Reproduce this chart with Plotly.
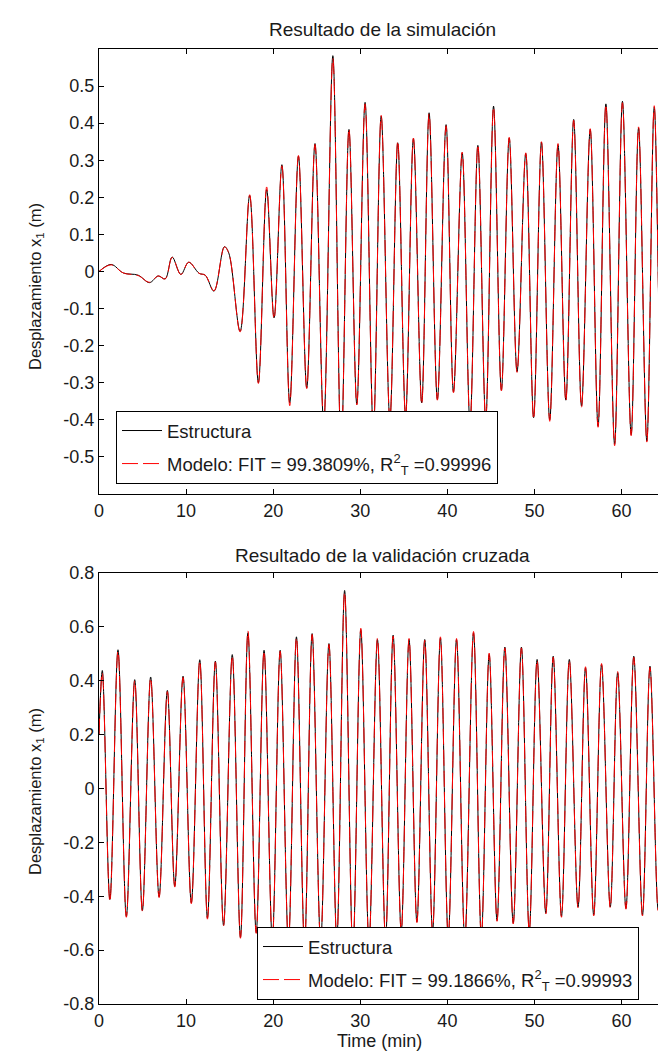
import plotly.graph_objects as go

# ---------------- data (extrema of the oscillation) ----------------
sim_t = [0, 1.4, 2.8, 4.5, 5.8, 6.8, 7.6, 8.4, 9.4, 10.3,
         11.5, 12.2, 13.2, 14.4, 14.9, 16.2, 17.3, 18.3, 19.25, 20.1,
         21.0, 21.9, 22.9, 23.85, 24.8, 25.8, 26.85, 27.8, 28.7, 29.6,
         30.55, 31.5, 32.4, 33.4, 34.3, 35.2, 36.1, 37.05, 37.9, 38.85,
         39.85, 40.7, 41.7, 42.6, 43.5, 44.4, 45.3, 46.2, 47.1, 48.0,
         49.0, 49.9, 50.8, 51.75, 52.7, 53.6, 54.5, 55.4, 56.4, 57.3,
         58.2, 59.2, 60.1, 61.1, 61.95, 62.9, 63.75, 64.6, 65.1]
sim_struct = [0.0, 0.019, -0.004, -0.01, -0.03, -0.012, -0.02, 0.039, -0.008, 0.025,
              -0.005, -0.01, -0.053, 0.067, 0.05, -0.161, 0.205, -0.30, 0.221, -0.125,
              0.288, -0.354, 0.311, -0.314, 0.345, -0.41, 0.582, -0.48, 0.383, -0.358,
              0.456, -0.43, 0.419, -0.40, 0.347, -0.39, 0.358, -0.354, 0.428, -0.345,
              0.396, -0.325, 0.32, -0.41, 0.34, -0.40, 0.446, -0.32, 0.36, -0.27,
              0.318, -0.394, 0.349, -0.40, 0.342, -0.347, 0.41, -0.363, 0.383, -0.417,
              0.452, -0.466, 0.459, -0.44, 0.387, -0.457, 0.443, -0.40, 0.0]
sim_model = [0.0, 0.018, -0.004, -0.011, -0.029, -0.012, -0.02, 0.038, -0.008, 0.025,
             -0.005, -0.01, -0.052, 0.066, 0.05, -0.163, 0.207, -0.302, 0.228, -0.128,
             0.285, -0.362, 0.313, -0.316, 0.343, -0.41, 0.575, -0.48, 0.385, -0.36,
             0.452, -0.43, 0.421, -0.40, 0.352, -0.39, 0.36, -0.358, 0.425, -0.347,
             0.393, -0.327, 0.322, -0.41, 0.342, -0.40, 0.443, -0.322, 0.362, -0.272,
             0.32, -0.398, 0.35, -0.404, 0.345, -0.35, 0.408, -0.366, 0.385, -0.42,
             0.45, -0.47, 0.455, -0.443, 0.39, -0.46, 0.447, -0.405, 0.0]

val_t = [0, 0.38, 1.25, 2.18, 3.14, 4.1, 4.98, 5.93, 6.9, 7.85,
         8.7, 9.65, 10.6, 11.57, 12.45, 13.36, 14.3, 15.3, 16.24, 17.1,
         18.05, 18.95, 19.9, 20.8, 21.75, 22.67, 23.6, 24.47, 25.45, 26.4,
         27.3, 28.2, 29.15, 30.06, 31.0, 31.97, 32.9, 33.77, 34.7, 35.6,
         36.5, 37.4, 38.3, 39.2, 40.1, 41.05, 42.0, 43.0, 43.9, 44.8,
         45.7, 46.6, 47.56, 48.5, 49.4, 50.3, 51.3, 52.15, 53.1, 54.0,
         55.0, 55.86, 56.8, 57.7, 58.7, 59.55, 60.5, 61.4, 62.4, 63.26,
         64.2, 65.06]
val_struct = [0.20, 0.438, -0.412, 0.515, -0.475, 0.404, -0.453, 0.414, -0.402, 0.364,
              -0.363, 0.417, -0.425, 0.478, -0.481, 0.473, -0.508, 0.497, -0.553, 0.578,
              -0.535, 0.513, -0.56, 0.513, -0.57, 0.563, -0.58, 0.575, -0.57, 0.538,
              -0.56, 0.735, -0.60, 0.59, -0.57, 0.553, -0.56, 0.569, -0.53, 0.553,
              -0.495, 0.553, -0.53, 0.559, -0.55, 0.553, -0.56, 0.578, -0.55, 0.498,
              -0.49, 0.525, -0.50, 0.525, -0.53, 0.479, -0.463, 0.491, -0.475, 0.479,
              -0.44, 0.448, -0.47, 0.46, -0.44, 0.43, -0.445, 0.491, -0.47, 0.454,
              -0.45, 0.436]
val_model = [0.20, 0.43, -0.42, 0.51, -0.478, 0.40, -0.455, 0.41, -0.405, 0.36,
             -0.366, 0.413, -0.428, 0.474, -0.485, 0.47, -0.51, 0.493, -0.556, 0.585,
             -0.538, 0.51, -0.563, 0.51, -0.572, 0.56, -0.582, 0.572, -0.572, 0.535,
             -0.562, 0.728, -0.602, 0.595, -0.572, 0.558, -0.562, 0.566, -0.532, 0.557,
             -0.498, 0.55, -0.532, 0.563, -0.552, 0.557, -0.562, 0.583, -0.552, 0.503,
             -0.493, 0.522, -0.503, 0.522, -0.532, 0.476, -0.466, 0.488, -0.478, 0.476,
             -0.443, 0.452, -0.473, 0.464, -0.443, 0.434, -0.448, 0.487, -0.473, 0.45,
             -0.453, 0.432]

x_ticks = [0, 10, 20, 30, 40, 50, 60]
y1_ticks = [0.5, 0.4, 0.3, 0.2, 0.1, 0, -0.1, -0.2, -0.3, -0.4, -0.5]
y1_labels = ["0.5", "0.4", "0.3", "0.2", "0.1", "0", "-0.1", "-0.2", "-0.3", "-0.4", "-0.5"]
y2_ticks = [0.8, 0.6, 0.4, 0.2, 0, -0.2, -0.4, -0.6, -0.8]
y2_labels = ["0.8", "0.6", "0.4", "0.2", "0", "-0.2", "-0.4", "-0.6", "-0.8"]

title_sim = "Resultado de la simulación"
title_val = "Resultado de la validación cruzada"
name_struct = "Estructura"
name_model_sim = "Modelo: FIT = 99.3809%, R<sup>2</sup><sub>T</sub> =0.99996"
name_model_val = "Modelo: FIT = 99.1866%, R<sup>2</sup><sub>T</sub> =0.99993"
ylabel = "Desplazamiento x<sub>1</sub> (m)"
xlabel = "Time (min)"

# ---------------- figure ----------------
W, H = 666, 1061
FONT = "Liberation Sans, Arial, sans-serif"
TXT = "#1a1a1a"

fig = go.Figure()
black = dict(color="black", width=1, shape="spline", smoothing=1)
red = dict(color="#ff0000", width=1, dash="16px,5px", shape="spline", smoothing=1)

fig.add_trace(go.Scatter(x=sim_t, y=sim_struct, mode="lines", line=black, name=name_struct,
                         xaxis="x", yaxis="y", legend="legend", legendgroup="a"))
fig.add_trace(go.Scatter(x=sim_t, y=sim_model, mode="lines", line=red, name=name_model_sim,
                         xaxis="x", yaxis="y", legend="legend", legendgroup="b"))
fig.add_trace(go.Scatter(x=val_t, y=val_struct, mode="lines", line=black, name=name_struct,
                         xaxis="x2", yaxis="y2", legend="legend2", legendgroup="c"))
fig.add_trace(go.Scatter(x=val_t, y=val_model, mode="lines", line=red, name=name_model_val,
                         xaxis="x2", yaxis="y2", legend="legend2", legendgroup="d"))

xdom = [91 / W, 658 / W]
axis_common = dict(showline=True, linecolor="black", linewidth=1, mirror="ticks",
                   ticks="inside", ticklen=5, tickcolor="black", showgrid=False,
                   zeroline=False, tickfont=dict(family=FONT, size=18, color=TXT),
                   automargin=False)

leg_common = dict(xanchor="left", yanchor="top", bgcolor="white", bordercolor="black",
                  borderwidth=1, font=dict(family=FONT, size=18.5, color=TXT),
                  traceorder="grouped", tracegroupgap=6, itemwidth=40)

fig.update_layout(
    width=W, height=H, template="none",
    paper_bgcolor="white", plot_bgcolor="white",
    margin=dict(l=0, r=0, t=0, b=0),
    font=dict(family=FONT, color=TXT),
    xaxis=dict(domain=xdom, anchor="y", range=[0, 65.1], tickvals=x_ticks, **axis_common),
    yaxis=dict(domain=[1 - 486 / H, 1 - 41 / H], anchor="x", range=[-0.6, 0.6],
               tickvals=y1_ticks, ticktext=y1_labels, **axis_common),
    xaxis2=dict(domain=xdom, anchor="y2", range=[0, 65.1], tickvals=x_ticks, **axis_common),
    yaxis2=dict(domain=[1 - 996 / H, 1 - 565 / H], anchor="x2", range=[-0.8, 0.8],
                tickvals=y2_ticks, ticktext=y2_labels, **axis_common),
    legend=dict(x=108 / W, y=1 - 403 / H, **leg_common),
    legend2=dict(x=249 / W, y=1 - 919 / H, **leg_common),
    showlegend=True,
)

ann = dict(xref="paper", yref="paper", showarrow=False, font=dict(family=FONT, size=19, color=TXT))
fig.add_annotation(text=title_sim, x=374.5 / W, y=1 - 22 / H, xanchor="center", yanchor="middle", **ann)
fig.add_annotation(text=title_val, x=374.5 / W, y=1 - 547 / H, xanchor="center", yanchor="middle", **ann)
ann16 = dict(ann, font=dict(family=FONT, size=16.5, color=TXT))
fig.add_annotation(text=ylabel, x=28 / W, y=1 - 279 / H, textangle=-90,
                   xanchor="center", yanchor="middle", **ann16)
fig.add_annotation(text=ylabel, x=28 / W, y=1 - 784 / H, textangle=-90,
                   xanchor="center", yanchor="middle", **ann16)
fig.add_annotation(text=xlabel, x=372 / W, y=1 - 1033 / H, xanchor="center", yanchor="middle",
                   **dict(ann, font=dict(family=FONT, size=18, color=TXT)))

fig.write_html("out.html")
